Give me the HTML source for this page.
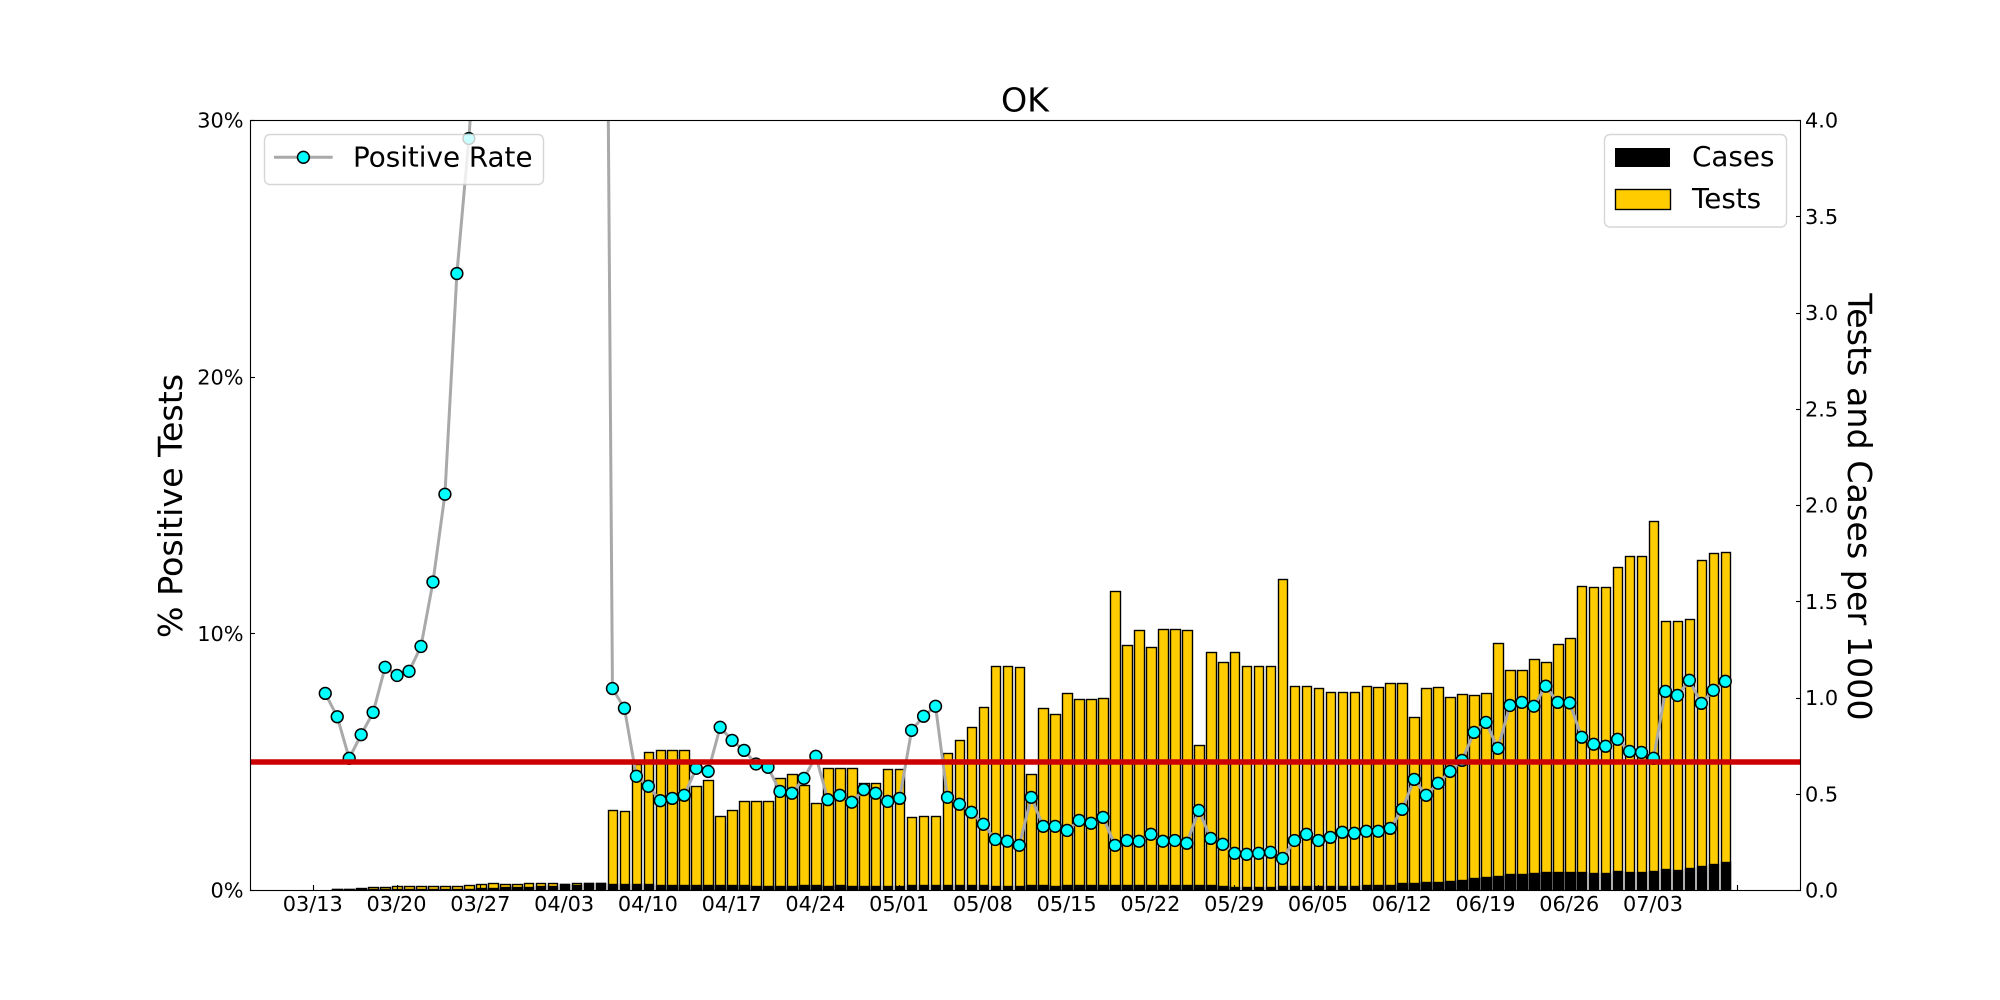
<!DOCTYPE html>
<html lang="en">
<head>
<meta charset="utf-8">
<title>OK - Positive Rate, Tests and Cases</title>
<style>
html,body{margin:0;padding:0;background:#fff;width:2000px;height:1000px;overflow:hidden}
svg{display:block}
text{font-family:"DejaVu Sans","Liberation Sans",sans-serif;fill:#000}
</style>
</head>
<body>
<svg id="chart" xmlns="http://www.w3.org/2000/svg" width="2000" height="1000" viewBox="0 0 2000 1000">
<defs><clipPath id="plot-clip"><rect x="250" y="120" width="1550" height="770"/></clipPath></defs>
<rect x="0" y="0" width="2000" height="1000" fill="#fff"/>
<g id="bars" clip-path="url(#plot-clip)"></g>
<g id="ticks"></g>
<g id="series" clip-path="url(#plot-clip)"></g>
<line x1="250" x2="1800" y1="762" y2="762" stroke="#cc0000" stroke-width="5.56"/>
<g fill="none" stroke="#000" stroke-width="1.11">
<rect x="250.5" y="120.5" width="1550" height="770"/>
</g>
<text x="1025" y="111.7" font-size="33.33" text-anchor="middle">OK</text>
<text transform="translate(182 506) rotate(-90)" font-size="33.33" text-anchor="middle">% Positive Tests</text>
<text transform="translate(1848 507) rotate(90)" font-size="33.33" text-anchor="middle">Tests and Cases per 1000</text>
<g id="labels"></g>
<g>
<rect x="264.5" y="134.5" width="279" height="50" rx="5.5" ry="5.5" fill="#fff" fill-opacity="0.8" stroke="#ccc" stroke-opacity="0.8" stroke-width="1.39"/>
<line x1="274" x2="332.7" y1="157.3" y2="157.3" stroke="#a9a9a9" stroke-width="3"/>
<circle cx="303.4" cy="157.3" r="5.9" fill="#00ffff" stroke="#000" stroke-width="1.5"/>
<text x="353" y="166.7" font-size="27.78">Positive Rate</text>
</g>
<g>
<rect x="1604.5" y="134.5" width="182" height="92.5" rx="5.5" ry="5.5" fill="#fff" fill-opacity="0.8" stroke="#ccc" stroke-opacity="0.8" stroke-width="1.39"/>
<rect x="1615" y="148" width="55" height="19" fill="#000"/>
<text x="1692" y="166" font-size="27.78">Cases</text>
<rect x="1615.5" y="189.5" width="55" height="20" fill="#ffcc00" stroke="#000" stroke-width="1.39"/>
<text x="1692" y="208" font-size="27.78">Tests</text>
</g>
<script>
var categories = [
'03/13','03/14','03/15','03/16','03/17','03/18','03/19','03/20','03/21','03/22','03/23','03/24','03/25','03/26','03/27','03/28','03/29','03/30','03/31',
'04/01','04/02','04/03','04/04','04/05','04/06','04/07','04/08','04/09','04/10','04/11','04/12','04/13','04/14','04/15','04/16','04/17','04/18','04/19','04/20','04/21','04/22','04/23','04/24','04/25','04/26','04/27','04/28','04/29','04/30',
'05/01','05/02','05/03','05/04','05/05','05/06','05/07','05/08','05/09','05/10','05/11','05/12','05/13','05/14','05/15','05/16','05/17','05/18','05/19','05/20','05/21','05/22','05/23','05/24','05/25','05/26','05/27','05/28','05/29','05/30','05/31',
'06/01','06/02','06/03','06/04','06/05','06/06','06/07','06/08','06/09','06/10','06/11','06/12','06/13','06/14','06/15','06/16','06/17','06/18','06/19','06/20','06/21','06/22','06/23','06/24','06/25','06/26','06/27','06/28','06/29','06/30',
'07/01','07/02','07/03','07/04','07/05','07/06','07/07','07/08','07/09'];
var testsPer1000 = [
null,0.001,0.007,0.005,0.010,0.016,0.016,0.021,0.021,0.021,0.021,0.021,0.021,0.026,0.031,0.036,0.031,0.031,0.036,
0.036,0.036,0.033,0.036,0.038,0.038,0.414,0.409,0.654,0.715,0.726,0.726,0.726,0.539,0.570,0.383,0.414,0.461,0.461,0.461,0.580,0.601,0.544,0.450,0.632,0.632,0.632,0.554,0.554,0.627,
0.627,0.377,0.383,0.383,0.710,0.777,0.845,0.949,1.162,1.162,1.157,0.601,0.944,0.913,1.022,0.991,0.991,0.996,1.552,1.271,1.349,1.261,1.354,1.354,1.349,0.752,1.235,1.183,1.235,1.162,1.162,
1.162,1.614,1.058,1.058,1.048,1.027,1.027,1.027,1.058,1.053,1.074,1.074,0.897,1.048,1.053,1.001,1.016,1.011,1.022,1.281,1.141,1.141,1.198,1.183,1.276,1.307,1.577,1.572,1.572,1.676,
1.733,1.733,1.915,1.396,1.396,1.406,1.713,1.749,1.754];
var casesPer1000 = [
null,null,0.005,0.005,0.003,0.003,0.003,0.005,0.005,0.005,0.005,0.005,0.005,0.005,0.010,0.010,0.016,0.016,0.016,
0.021,0.021,0.033,0.026,0.038,0.038,0.031,0.031,0.031,0.031,0.026,0.026,0.026,0.026,0.026,0.026,0.026,0.026,0.021,0.021,0.021,0.021,0.026,0.026,0.021,0.026,0.021,0.021,0.021,0.021,
0.021,0.026,0.026,0.026,0.026,0.026,0.026,0.026,0.021,0.021,0.021,0.026,0.026,0.021,0.026,0.026,0.026,0.026,0.026,0.026,0.026,0.026,0.026,0.026,0.026,0.026,0.026,0.021,0.016,0.016,0.016,
0.016,0.021,0.021,0.021,0.021,0.021,0.021,0.021,0.026,0.026,0.026,0.036,0.036,0.042,0.042,0.047,0.052,0.062,0.068,0.073,0.083,0.083,0.088,0.094,0.094,0.094,0.094,0.088,0.088,0.099,
0.094,0.094,0.099,0.109,0.104,0.114,0.125,0.135,0.145];
var positiveRate = [
null,7.66,6.75,5.13,6.05,6.92,8.68,8.36,8.52,9.49,12.0,15.42,24.02,29.28,36,42,48,55,60,
66,70,74,73,72,72,7.85,7.08,4.43,4.04,3.48,3.57,3.69,4.74,4.62,6.34,5.83,5.44,4.91,4.78,3.84,3.77,4.35,5.21,3.52,3.69,3.42,3.91,3.77,3.45,
3.57,6.22,6.77,7.16,3.61,3.34,3.03,2.56,1.97,1.90,1.74,3.61,2.48,2.48,2.32,2.71,2.60,2.83,1.74,1.93,1.90,2.17,1.90,1.93,1.82,3.10,2.01,1.78,1.43,1.39,1.43,
1.47,1.23,1.93,2.17,1.93,2.05,2.25,2.21,2.29,2.29,2.40,3.14,4.31,3.69,4.16,4.62,5.05,6.14,6.53,5.52,7.19,7.31,7.16,7.94,7.31,7.29,5.95,5.68,5.60,5.87,
5.40,5.36,5.13,7.74,7.58,8.17,7.27,7.78,8.13];
var xTickDates = ['03/13','03/20','03/27','04/03','04/10','04/17','04/24','05/01','05/08','05/15','05/22','05/29','06/05','06/12','06/19','06/26','07/03','07/10'];
var xTickLabels = ['03/13','03/20','03/27','04/03','04/10','04/17','04/24','05/01','05/08','05/15','05/22','05/29','06/05','06/12','06/19','06/26','07/03',''];
var leftTicks = [0,10,20,30];
var leftTickLabels = ['0%','10%','20%','30%'];
var rightTicks = [0,0.5,1,1.5,2,2.5,3,3.5,4];
var rightTickLabels = ['0.0','0.5','1.0','1.5','2.0','2.5','3.0','3.5','4.0'];

var NS = 'http://www.w3.org/2000/svg';
function dayOf(s){var p=s.split('/');return (Date.UTC(2020,+p[0]-1,+p[1])-Date.UTC(2020,2,13))/86400000;}
function xScale(day){return 313.3+11.966*day;}
function yLeft(v){return 890-v*770/30;}
function yRight(v){return 890-v*770/4;}
function make(parent,tag,attrs){var el=document.createElementNS(NS,tag);for(var k in attrs){el.setAttribute(k,attrs[k]);}parent.appendChild(el);return el;}

var barsLayer=document.getElementById('bars');
var ticksLayer=document.getElementById('ticks');
var seriesLayer=document.getElementById('series');
var labelsLayer=document.getElementById('labels');
var BAR_W=0.8*11.966;

function drawBar(layer,value,day,color){
  var cx=xScale(day);
  var x0=Math.round(cx-BAR_W/2)+0.5;
  var x1=Math.round(cx+BAR_W/2)+0.5;
  var top=Math.round(yRight(value))+0.5;
  return make(layer,'rect',{x:x0,y:top,width:x1-x0,height:Math.max(890.5-top,0),fill:color,stroke:'#000','stroke-width':1.39});
}
categories.forEach(function(c,i){
  if(testsPer1000[i]==null){return;}
  var bar=drawBar(barsLayer,testsPer1000[i],dayOf(c),'#ffcc00');
  
  
});
categories.forEach(function(c,i){
  if(casesPer1000[i]==null){return;}
  var bar=drawBar(barsLayer,casesPer1000[i],dayOf(c),'#000');
  
  
});

xTickDates.forEach(function(d,i){
  var x=Math.floor(xScale(dayOf(d)))+0.5;
  var t=make(ticksLayer,'line',{x1:x,x2:x,y1:890,y2:885,stroke:'#000','stroke-width':1.11});
  
  
  if(xTickLabels[i]){
    var l=make(labelsLayer,'text',{x:xScale(dayOf(d))-0.5,y:911,'font-size':20.83,'text-anchor':'middle'});
    l.textContent=xTickLabels[i];
    
    
  }
});
leftTicks.forEach(function(v,i){
  var y=Math.round(yLeft(v))+0.5;
  var t=make(ticksLayer,'line',{x1:250,x2:255,y1:y,y2:y,stroke:'#000','stroke-width':1.11});
  
  
  var l=make(labelsLayer,'text',{x:243.5,y:yLeft(v)+7.6,'font-size':20.83,'text-anchor':'end'});
  l.textContent=leftTickLabels[i];
  
  
});
rightTicks.forEach(function(v,i){
  var y=Math.round(yRight(v))+0.5;
  var t=make(ticksLayer,'line',{x1:1796,x2:1801,y1:y,y2:y,stroke:'#000','stroke-width':1.11});
  
  
  var l=make(labelsLayer,'text',{x:1805,y:yRight(v)+7.6,'font-size':20.83});
  l.textContent=rightTickLabels[i];
  
  
});

var pts=[];
categories.forEach(function(c,i){
  if(positiveRate[i]!=null){pts.push(xScale(dayOf(c)).toFixed(2)+','+yLeft(positiveRate[i]).toFixed(2));}
});
var line=make(seriesLayer,'polyline',{points:pts.join(' '),fill:'none',stroke:'#a9a9a9','stroke-width':3,'stroke-linejoin':'round'});


categories.forEach(function(c,i){
  if(positiveRate[i]==null){return;}
  var m=make(seriesLayer,'circle',{cx:xScale(dayOf(c)),cy:yLeft(positiveRate[i]),r:5.9,fill:'#00ffff',stroke:'#000','stroke-width':1.5});
  
  
});
</script>
</svg>
</body>
</html>
